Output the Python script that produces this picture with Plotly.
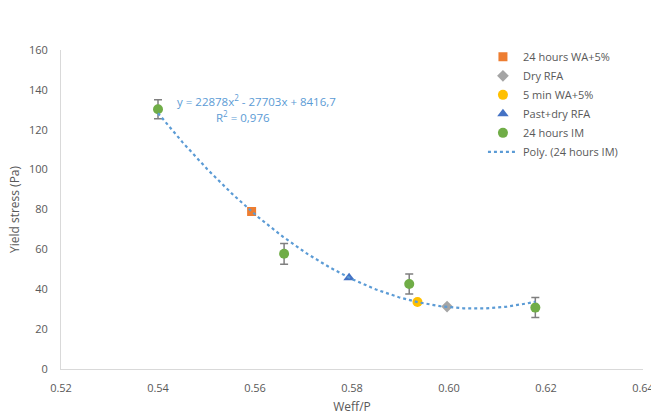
import numpy as np
import plotly.graph_objects as go

# Data
im_x = [0.540, 0.566, 0.5918, 0.6178]
im_y = [130.3, 57.8, 42.6, 30.8]
im_err = [4.8, 5.2, 5.0, 5.0]

wa24_x = [0.5593]
wa24_y = [79.0]
dry_x = [0.5996]
dry_y = [31.3]
min5_x = [0.5935]
min5_y = [33.6]
past_x = [0.5794]
past_y = [45.8]

poly_coef = [22878, -27703, 8416.7]  # trendline y = a x^2 + b x + c
eq_text = "y = 22878x<sup>2</sup> - 27703x + 8416,7"
r2_text = "R<sup>2</sup> = 0,976"

x_ticks = [0.52, 0.54, 0.56, 0.58, 0.60, 0.62, 0.64]
y_ticks = [0, 20, 40, 60, 80, 100, 120, 140, 160]

FONT = "Open Sans, Liberation Sans, sans-serif"
GREY = "#595959"

fig = go.Figure()

fig.add_trace(go.Scatter(x=wa24_x, y=wa24_y, mode="markers", name="24 hours WA+5%",
                         marker=dict(symbol="square", size=9, color="#ed7d31")))
fig.add_trace(go.Scatter(x=dry_x, y=dry_y, mode="markers", name="Dry RFA",
                         marker=dict(symbol="diamond", size=9, color="#a5a5a5")))
fig.add_trace(go.Scatter(x=min5_x, y=min5_y, mode="markers", name="5 min WA+5%",
                         marker=dict(symbol="circle", size=10, color="#ffc000")))
fig.add_trace(go.Scatter(x=past_x, y=past_y, mode="markers", name="Past+dry RFA",
                         marker=dict(symbol="triangle-up", size=10, color="#4472c4")))

# trendline
xs = np.linspace(min(im_x), max(im_x), 200)
ys = np.polyval(poly_coef, xs)

fig.add_trace(go.Scatter(x=im_x, y=im_y, mode="markers", name="24 hours IM",
                         marker=dict(symbol="circle", size=10, color="#70ad47"),
                         error_y=dict(type="data", array=im_err, visible=True,
                                      color="#7f7f7f", thickness=1.5, width=4)))
fig.add_trace(go.Scatter(x=xs, y=ys, mode="lines", name="Poly. (24 hours IM)",
                         line=dict(color="#5b9bd5", width=2.2, dash="dot")))

fig.add_annotation(x=0.5435, y=134.8, xref="x", yref="y", text=eq_text, showarrow=False,
                   xanchor="left", yanchor="middle",
                   font=dict(family=FONT, size=11.5, color="#5b9bd5"))
fig.add_annotation(x=0.5575, y=126.8, xref="x", yref="y", text=r2_text, showarrow=False,
                   xanchor="center", yanchor="middle",
                   font=dict(family=FONT, size=11.5, color="#5b9bd5"))

fig.update_layout(
    width=651, height=415,
    margin=dict(l=61, r=8, t=50, b=46),
    paper_bgcolor="white", plot_bgcolor="white",
    font=dict(family=FONT, size=11, color=GREY),
    showlegend=True,
    legend=dict(x=0.725, y=1.024, xanchor="left", yanchor="top",
                font=dict(family=FONT, size=11, color=GREY),
                bgcolor="rgba(0,0,0,0)", itemwidth=30),
    xaxis=dict(range=[0.52, 0.64], tickvals=x_ticks,
               ticktext=[f"{v:.2f}" for v in x_ticks],
               showgrid=False, zeroline=False, showline=True, linecolor="#d9d9d9",
               linewidth=1, ticks="", tickfont=dict(size=11, color=GREY),
               ticklabelstandoff=9, ticklabeloverflow="allow", automargin=False,
               title=dict(text="Weff/P", font=dict(size=12, color=GREY), standoff=8)),
    yaxis=dict(range=[0, 160], tickvals=y_ticks, showgrid=False, zeroline=False,
               showline=True, linecolor="#d9d9d9", linewidth=1, ticks="",
               tickfont=dict(size=11, color=GREY), ticklabelstandoff=10, automargin=False,
               title=dict(text="Yield stress (Pa)", font=dict(size=12, color=GREY), standoff=6)),
)

fig.write_html("out.html")
